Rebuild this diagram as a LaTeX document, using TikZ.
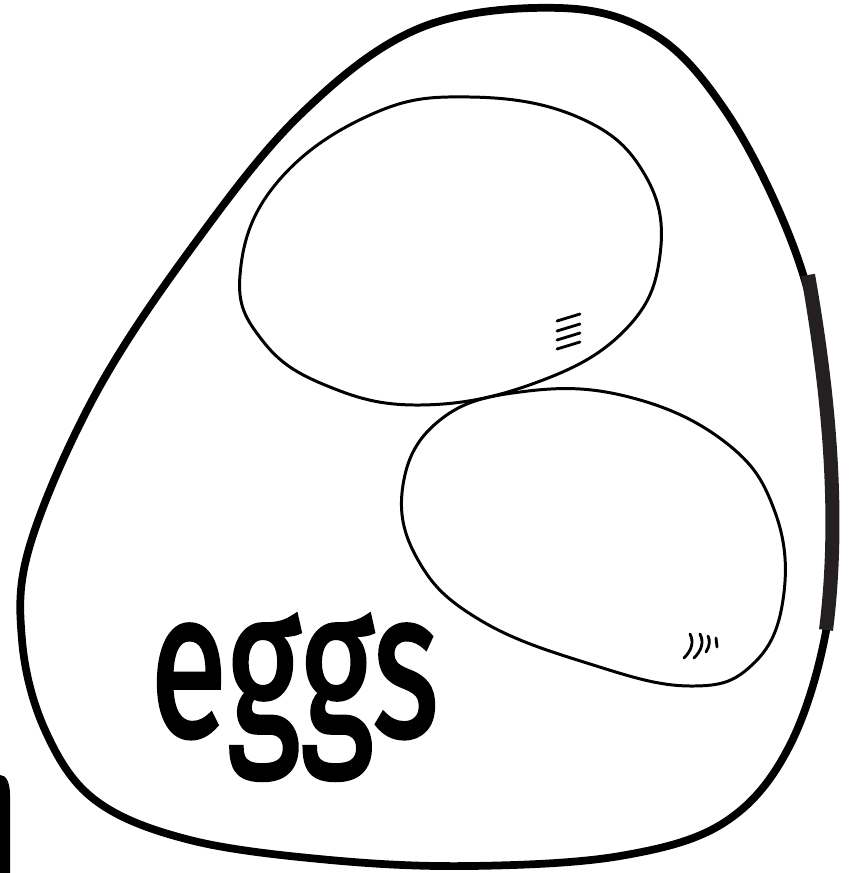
\documentclass[tikz,border=0pt]{standalone}
\usepackage{fontspec}
\setmainfont{Fira Sans}
\newfontfamily\handfont[FakeBold=2]{Fira Sans}
\usepackage{xcolor}
\usepackage{tikz}
\definecolor{mydark}{rgb}{0.14, 0.12, 0.13}
\tikzstyle{shell} = [line width=4.4pt, line join=round]
\tikzstyle{yolk} = [line width=1.7pt]
\tikzstyle{shine} = [line width=1.6pt, line cap=round]

\begin{document}
\begin{tikzpicture}[x=0.02cm, y=-0.02cm]
    \useasboundingbox (0,0) rectangle (859,873);
    \draw[shell] plot[smooth cycle, tension=0.6] coordinates {(560,8) (420,28) (300,115) (190,250) (95,395) (30,545) (22,640) (45,730) (95,800) (190,840) (330,860) (470,866) (620,856) (725,822) (790,745) (828,620) (834,480) (818,335) (785,225) (725,110) (655,35)};
    \draw[line width=8pt, mydark, line cap=butt] (808,275) .. controls (830,400) and (840,520) .. (826,630);
    \fill (0,775) .. controls (6,775) and (10,782) .. (10,795) -- (10,873) -- (0,873) -- cycle;
    \draw[yolk] plot[smooth cycle, tension=0.7] coordinates {(240,275) (275,185) (370,115) (470,97) (580,118) (645,175) (660,255) (625,330) (535,383) (420,405) (325,385) (262,340)};
    \draw[yolk] plot[smooth cycle, tension=0.7] coordinates {(403,485) (440,420) (520,392) (625,396) (725,442) (775,512) (783,600) (752,665) (690,686) (590,664) (480,620) (418,560)};
    \foreach \y in {0,10,19,28} {
        \draw[shine] (557,{321+\y}) -- (580,{314+\y});
    }
    \draw[shine] (684,658) .. controls (692,650) and (694,642) .. (690,634);
    \draw[shine] (694,658) .. controls (702,650) and (704,642) .. (700,634);
    \draw[shine] (706,652) .. controls (710,646) and (710,640) .. (708,636);
    \draw[shine] (717,647) -- (716,638);
    \node[font=\handfont\fontsize{118}{118}\selectfont, xscale=0.68, inner sep=0pt, anchor=base west] (label) at (150,736) {eggs};
\end{tikzpicture}
\end{document}
